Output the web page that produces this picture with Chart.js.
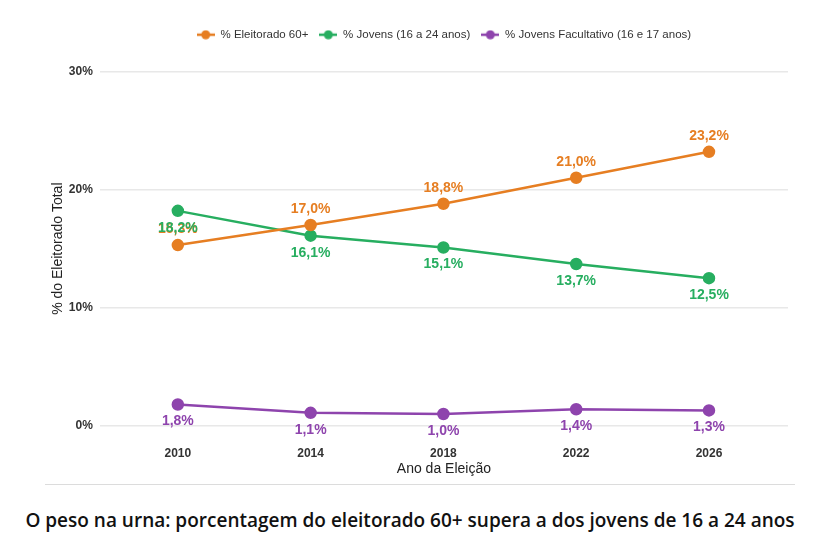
<!DOCTYPE html>
<html>
<head>
<meta charset="utf-8">
<script src="https://cdn.jsdelivr.net/npm/chart.js@4.4.0/dist/chart.umd.min.js"></script>
<style>
  html, body { margin: 0; padding: 0; background: #fff; }
  #wrap { position: relative; width: 820px; height: 485px; }
  #sep { position: absolute; left: 45px; top: 484px; width: 750px; height: 0; border-top: 1px solid #dcdcdc; }
  #foot { position: absolute; left: 0; top: 507px; width: 820px; text-align: center;
          font-family: "Open Sans", sans-serif; font-weight: 600; font-size: 19px; color: #111; }
</style>
</head>
<body>
<div id="wrap"><canvas id="myChart" width="820" height="485"></canvas></div>
<div id="sep"></div>
<div id="foot">O peso na urna: porcentagem do eleitorado 60+ supera a dos jovens de 16 a 24 anos</div>
<script>
// dados
const anos = [2010, 2014, 2018, 2022, 2026];
const eleitorado60 = [15.3, 17.0, 18.8, 21.0, 23.2];
const jovens = [18.2, 16.1, 15.1, 13.7, 12.5];
const jovensFacult = [1.8, 1.1, 1.0, 1.4, 1.3];
const yTicks = [0, 10, 20, 30];

const cores = ['#e67e22', '#27ae60', '#8e44ad'];
const nomes = ['% Eleitorado 60+', '% Jovens (16 a 24 anos)', '% Jovens Facultativo (16 e 17 anos)'];
const offsets = [-16, 17, 17];

function fmt(v) { return v.toFixed(1).replace('.', ',') + '%'; }

function legendIcon(color) {
  const c = document.createElement('canvas');
  c.width = 18; c.height = 10;
  const g = c.getContext('2d');
  g.strokeStyle = color; g.lineWidth = 2.5;
  g.beginPath(); g.moveTo(0, 5); g.lineTo(18, 5); g.stroke();
  g.fillStyle = color;
  g.beginPath(); g.arc(9, 5, 4.5, 0, Math.PI * 2); g.fill();
  return c;
}

const valueLabels = {
  id: 'valueLabels',
  afterDatasetsDraw(chart) {
    const ctx = chart.ctx;
    ctx.save();
    ctx.font = 'bold 14px "Liberation Sans", Arial, sans-serif';
    ctx.textAlign = 'center';
    ctx.textBaseline = 'middle';
    chart.data.datasets.forEach((ds, i) => {
      const meta = chart.getDatasetMeta(i);
      meta.data.forEach((pt, j) => {
        ctx.fillStyle = cores[i];
        ctx.fillText(fmt(ds.data[j].y), pt.x, pt.y + offsets[i]);
      });
    });
    ctx.restore();
  }
};

// espaço extra abaixo da legenda
const legendMargin = {
  id: 'legendMargin',
  beforeInit(chart) {
    const fit = chart.legend.fit;
    chart.legend.fit = function () {
      fit.bind(chart.legend)();
      this.height += 21;
    };
  }
};

const series = [eleitorado60, jovens, jovensFacult];

let chart = document.getElementById('myChart').getContext('2d');
let myChart = new Chart(chart, {
  type: 'line',
  data: {
    datasets: series.map((s, i) => ({
      label: nomes[i],
      data: s.map((v, j) => ({ x: anos[j], y: v })),
      borderColor: cores[i],
      backgroundColor: cores[i],
      borderWidth: 2.5,
      pointRadius: 5,
      pointHoverRadius: 5,
      tension: 0
    }))
  },
  options: {
    responsive: false,
    animation: false,
    layout: { padding: { top: 18, right: 32, left: 50, bottom: 5 } },
    plugins: {
      legend: {
        display: true,
        fullSize: false,
        labels: {
          usePointStyle: true,
          pointStyleWidth: 18,
          font: { size: 11.5, family: '"Liberation Sans", Arial, sans-serif' },
          color: '#333',
          padding: 11,
          boxHeight: 10,
          generateLabels(ch) {
            return ch.data.datasets.map((ds, i) => ({
              text: ds.label,
              fillStyle: cores[i],
              strokeStyle: cores[i],
              fontColor: '#333',
              pointStyle: legendIcon(cores[i]),
              datasetIndex: i,
              hidden: false,
              lineWidth: 0
            }));
          }
        }
      },
      tooltip: { enabled: false }
    },
    scales: {
      x: {
        type: 'linear',
        min: 2007.65,
        max: 2028.38,
        afterBuildTicks(scale) { scale.ticks = anos.map(v => ({ value: v })); },
        grid: { display: false, drawTicks: false },
        border: { display: false },
        ticks: {
          callback: v => String(v),
          color: '#333',
          padding: 21,
          maxRotation: 0,
          font: { size: 12, weight: 'bold', family: '"Liberation Sans", Arial, sans-serif' }
        },
        title: {
          display: true,
          text: 'Ano da Eleição',
          color: '#222',
          padding: { top: -21, bottom: 2 },
          font: { size: 14, family: '"Liberation Sans", Arial, sans-serif' }
        }
      },
      y: {
        min: 0,
        max: 30,
        afterBuildTicks(scale) { scale.ticks = yTicks.map(v => ({ value: v })); },
        grid: { color: '#e8e8e8', lineWidth: 1.5, drawTicks: false },
        border: { display: false },
        ticks: {
          callback: v => v + '%',
          color: '#333',
          padding: 7,
          font: { size: 12, weight: 'bold', family: '"Liberation Sans", Arial, sans-serif' }
        },
        title: {
          display: true,
          text: '% do Eleitorado Total',
          color: '#222',
          padding: { top: 0, bottom: -5 },
          font: { size: 14, family: '"Liberation Sans", Arial, sans-serif' }
        }
      }
    }
  },
  plugins: [valueLabels, legendMargin]
});
</script>
</body>
</html>
